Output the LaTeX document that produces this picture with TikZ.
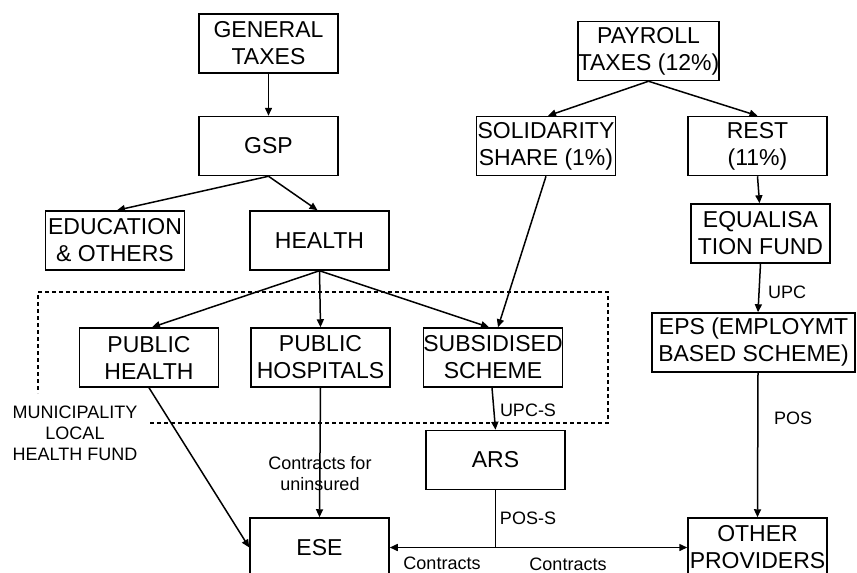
\documentclass[tikz,border=0pt]{standalone}
\usepackage{fontspec}
\setmainfont{Liberation Sans}
\usetikzlibrary{arrows.meta,calc}
\begin{document}
\begin{tikzpicture}[x=1pt,y=-1pt,
  box/.style={draw,line width=1.5pt,minimum width=139pt,minimum height=59pt,inner sep=0pt,align=center,font=\fontsize{23}{27}\selectfont},
  lbl/.style={inner sep=0pt,align=center,font=\fontsize{18}{21}\selectfont},
  arr/.style={line width=1.5pt,-{Triangle[length=8pt,width=7pt]}},
  ln/.style={line width=1.5pt},
  dsh/.style={line width=1.3pt,dash pattern=on 4pt off 3pt}]
\useasboundingbox (0,0) rectangle (857,573);
\clip (0,0) rectangle (857,573);
\fill[white] (0,0) rectangle (857,573);

% dashed region
\draw[dsh] (150,423) -- (608,423) -- (608,292) -- (38,292) -- (38,393);

% boxes
\node[box] (GT) at (268.5,43.5) {GENERAL\\TAXES};
\node[box] (GSP) at (268.5,146) {GSP};
\node[box] (EDU) at (115,240.5) {EDUCATION\\\& OTHERS};
\node[box] (HEALTH) at (319.5,240.5) {HEALTH};
\node[box] (PAY) at (648.5,51) {PAYROLL\\TAXES (12\%)};
\node[box] (SOL) at (546,146) {SOLIDARITY\\SHARE (1\%)};
\node[box] (REST) at (757.5,146) {REST\\(11\%)};
\node[box] (EQ) at (760.5,233.5) {EQUALISA\\TION FUND};
\node[box,minimum width=203pt] (EPS) at (753.5,342.5) {EPS (EMPLOYMT\\BASED SCHEME)};
\node[box] (PH) at (149,357.5) {PUBLIC\\HEALTH};
\node[box] (PHOSP) at (320.5,357.5) {PUBLIC\\HOSPITALS};
\node[box] (SUB) at (493,357.5) {SUBSIDISED\\SCHEME};
\node[box] (ARS) at (495.5,460) {ARS};
\node[box] (ESE) at (319.5,547.5) {ESE};
\node[box] (OTHER) at (757.5,547.5) {OTHER\\PROVIDERS};

% labels
\node[lbl] (MUN) at (75,433) {MUNICIPALITY\\LOCAL\\HEALTH FUND};
\node[lbl] (CFU) at (320,473.5) {Contracts for\\uninsured};
\node[lbl] (UPCS) at (528,410) {UPC-S};
\node[lbl] (POSS) at (528,518) {POS-S};
\node[lbl] (UPC) at (787,292) {UPC};
\node[lbl] (POS) at (793,418) {POS};
\node[lbl] (C1) at (442,563) {Contracts};
\node[lbl] (C2) at (568,564) {Contracts};

% connectors
\draw[arr] (GT.south) -- (GSP.north);
\draw[arr] (GSP.south) -- ($(EDU.north)+(2,0)$);
\draw[arr] (GSP.south) -- ($(HEALTH.north)+(-2,0)$);
\draw[arr] (HEALTH.south) -- ($(PH.north)+(3,0)$);
\draw[arr] (HEALTH.south) -- (PHOSP.north);
\draw[arr] (HEALTH.south) -- ($(SUB.north)+(-4,0)$);
\draw[arr] (PAY.south) -- ($(SOL.north)+(2,0)$);
\draw[arr] (PAY.south) -- (REST.north);
\draw[arr] (REST.south) -- ($(EQ.north)+(-1,0)$);
\draw[arr] (SOL.south) -- ($(SUB.north)+(5,0)$);
\draw[arr] ($(SUB.south)+(-1,0)$) -- (ARS.north);
\draw[arr] (EQ.south) -- ($(EPS.north)+(4.5,0)$);
\draw[arr] ($(EPS.south)+(4.5,0)$) -- (OTHER.north);
\draw[arr] (PH.south) -- (ESE.west);
\draw[arr] (PHOSP.south) -- (ESE.north);
\coordinate (J) at (ARS.south |- ESE.east);
\draw[ln] (ARS.south) -- (J);
\draw[arr] (J) -- (ESE.east);
\draw[arr] (J) -- (OTHER.west);
\end{tikzpicture}
\end{document}
